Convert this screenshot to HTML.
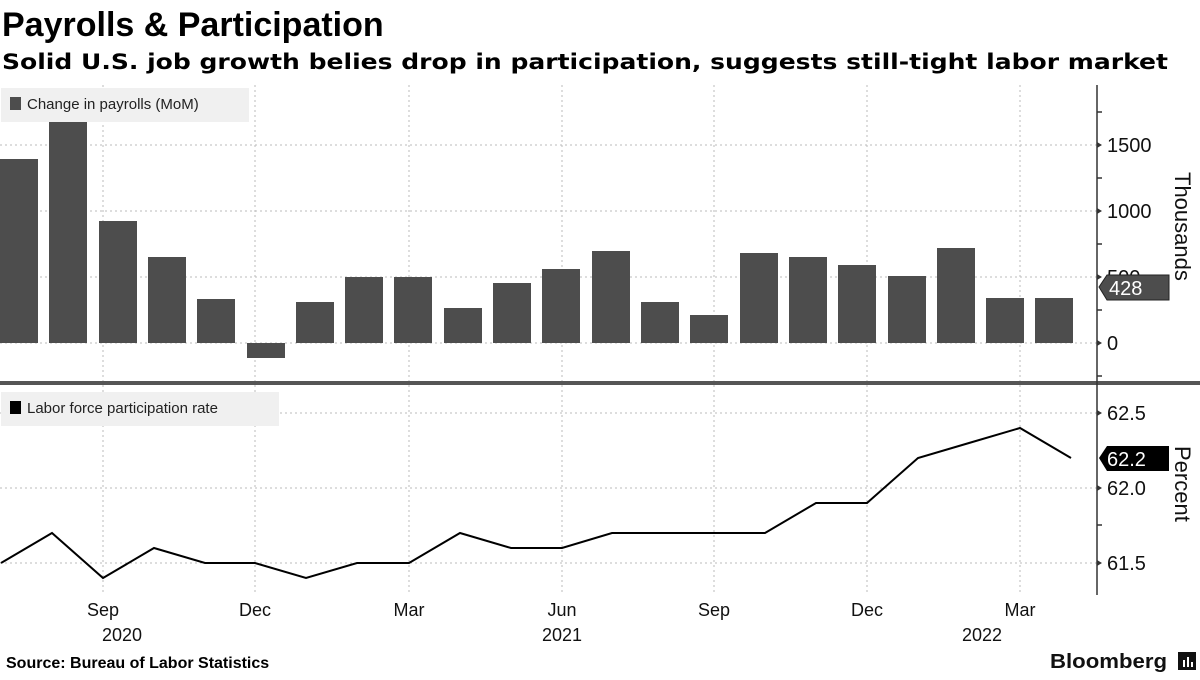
<!DOCTYPE html>
<html><head><meta charset="utf-8"><style>
body{margin:0;background:#fff;width:1200px;height:675px;overflow:hidden;font-family:"Liberation Sans",sans-serif}
</style></head><body>
<svg width="1200" height="675" xmlns="http://www.w3.org/2000/svg" font-family="Liberation Sans, sans-serif">
<text x="2" y="36" font-size="34" font-weight="bold" fill="#000">Payrolls &amp; Participation</text>
<text x="2" y="69" font-size="21" font-weight="bold" fill="#000" font-family="DejaVu Sans, Liberation Sans, sans-serif" textLength="1166" lengthAdjust="spacingAndGlyphs">Solid U.S. job growth belies drop in participation, suggests still-tight labor market</text>
<g stroke="#bbb" stroke-dasharray="2,3" stroke-width="1">
<line x1="0" x2="1097" y1="145" y2="145"/><line x1="0" x2="1097" y1="211" y2="211"/><line x1="0" x2="1097" y1="277" y2="277"/><line x1="0" x2="1097" y1="343" y2="343"/>
<line x1="0" x2="1097" y1="413" y2="413"/><line x1="0" x2="1097" y1="488" y2="488"/><line x1="0" x2="1097" y1="563" y2="563"/>
<line x1="103" x2="103" y1="85" y2="595"/><line x1="255" x2="255" y1="85" y2="595"/><line x1="409" x2="409" y1="85" y2="595"/><line x1="562" x2="562" y1="85" y2="595"/><line x1="714" x2="714" y1="85" y2="595"/><line x1="867" x2="867" y1="85" y2="595"/><line x1="1020" x2="1020" y1="85" y2="595"/>
</g>
<g fill="#4d4d4d">
<rect x="0" y="159" width="38" height="184"/>
<rect x="49" y="122" width="38" height="221"/>
<rect x="99" y="221" width="38" height="122"/>
<rect x="148" y="257" width="38" height="86"/>
<rect x="197" y="299" width="38" height="44"/>
<rect x="247" y="343" width="38" height="15"/>
<rect x="296" y="302" width="38" height="41"/>
<rect x="345" y="277" width="38" height="66"/>
<rect x="394" y="277" width="38" height="66"/>
<rect x="444" y="308" width="38" height="35"/>
<rect x="493" y="283" width="38" height="60"/>
<rect x="542" y="269" width="38" height="74"/>
<rect x="592" y="251" width="38" height="92"/>
<rect x="641" y="302" width="38" height="41"/>
<rect x="690" y="315" width="38" height="28"/>
<rect x="740" y="253" width="38" height="90"/>
<rect x="789" y="257" width="38" height="86"/>
<rect x="838" y="265" width="38" height="78"/>
<rect x="888" y="276" width="38" height="67"/>
<rect x="937" y="248" width="38" height="95"/>
<rect x="986" y="298" width="38" height="45"/>
<rect x="1035" y="298" width="38" height="45"/>
</g>
<rect x="1" y="88" width="248" height="34" fill="#f0f0f0"/>
<rect x="10" y="97" width="11" height="13" fill="#4d4d4d"/>
<text x="27" y="109" font-size="15" fill="#222">Change in payrolls (MoM)</text>
<rect x="1" y="392" width="278" height="34" fill="#f0f0f0"/>
<rect x="10" y="401" width="11" height="13" fill="#000"/>
<text x="27" y="413" font-size="15" fill="#222">Labor force participation rate</text>
<polyline fill="none" stroke="#000" stroke-width="2" points="1,563 52,533 103,578 154,548 205,563 255,563 306,578 357,563 409,563 460,533 511,548 562,548 612,533 663,533 714,533 765,533 816,503 867,503 918,458 969,443 1020,428 1071,458"/>
<rect x="0" y="381" width="1200" height="4" fill="#555"/>
<line x1="1097" x2="1097" y1="85" y2="595" stroke="#333" stroke-width="1.5"/>
<g stroke="#333" stroke-width="1.5">
<line x1="1097" x2="1102" y1="112" y2="112"/><line x1="1097" x2="1102" y1="178" y2="178"/><line x1="1097" x2="1102" y1="244" y2="244"/><line x1="1097" x2="1102" y1="310" y2="310"/><line x1="1097" x2="1102" y1="376" y2="376"/><line x1="1097" x2="1102" y1="525" y2="525"/>
</g>
<g fill="#333"><polygon points="1097,142 1102,145 1097,148"/><polygon points="1097,208 1102,211 1097,214"/><polygon points="1097,274 1102,277 1097,280"/><polygon points="1097,340 1102,343 1097,346"/><polygon points="1097,410 1102,413 1097,416"/><polygon points="1097,485 1102,488 1097,491"/><polygon points="1097,560 1102,563 1097,566"/></g>
<g font-size="20" fill="#111">
<text x="1107" y="152">1500</text><text x="1107" y="218">1000</text><text x="1107" y="284">500</text><text x="1107" y="350">0</text>
<text x="1107" y="420">62.5</text><text x="1107" y="495">62.0</text><text x="1107" y="570">61.5</text>
</g>
<polygon points="1099,287 1107,275 1169,275 1169,300 1107,300" fill="#4d4d4d" stroke="#222"/>
<text x="1109" y="295" font-size="20" fill="#fff">428</text>
<polygon points="1099,458 1107,446 1169,446 1169,471 1107,471" fill="#000"/>
<text x="1107" y="466" font-size="20" fill="#fff">62.2</text>
<text transform="translate(1175,172) rotate(90)" font-size="22" fill="#111">Thousands</text>
<text transform="translate(1175,446) rotate(90)" font-size="22" fill="#111">Percent</text>
<g font-size="18" fill="#111" text-anchor="middle">
<text x="103" y="616">Sep</text><text x="255" y="616">Dec</text><text x="409" y="616">Mar</text><text x="562" y="616">Jun</text><text x="714" y="616">Sep</text><text x="867" y="616">Dec</text><text x="1020" y="616">Mar</text>
<text x="122" y="641">2020</text><text x="562" y="641">2021</text><text x="982" y="641">2022</text>
</g>
<text x="6" y="668" font-size="16" font-weight="bold" fill="#000">Source:  Bureau of Labor Statistics</text>
<text x="1050" y="668" font-size="20" font-weight="bold" fill="#111" textLength="117" lengthAdjust="spacingAndGlyphs">Bloomberg</text>
<rect x="1178" y="652" width="18" height="18" fill="#111"/>
<rect x="1183" y="660" width="2" height="7" fill="#fff"/><rect x="1187" y="657" width="2" height="10" fill="#fff"/><rect x="1191" y="662" width="2" height="5" fill="#fff"/>
</svg>
</body></html>
